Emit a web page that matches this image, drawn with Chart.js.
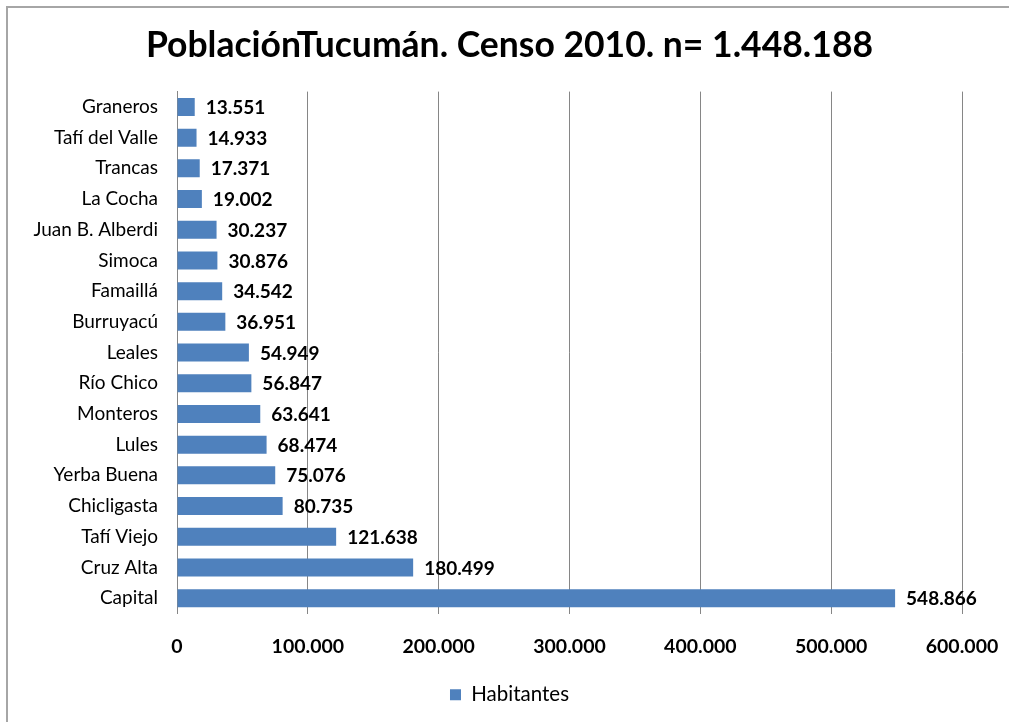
<!DOCTYPE html>
<html>
<head>
<meta charset="utf-8">
<script src="https://cdn.jsdelivr.net/npm/chart.js@4/dist/chart.umd.min.js"></script>
<style>
  html, body { margin: 0; padding: 0; background: #fff; }
  #wrap { position: relative; width: 1009px; height: 722px; }
  #frame { position: absolute; left: 6px; top: 6px; right: 0; bottom: 0; border-left: 2px solid #a6a6a6; border-top: 2px solid #a6a6a6; pointer-events: none; }
  canvas { position: absolute; left: 0; top: 0; }
</style>
</head>
<body>
<div id="wrap">
  <canvas id="chart" width="1009" height="722"></canvas>
  <div id="frame"></div>
</div>
<script>
// ── Data ──────────────────────────────────────────────────────────────────────
const departamentos = [
    "Graneros", "Tafí del Valle", "Trancas", "La Cocha", "Juan B. Alberdi", "Simoca",
    "Famaillá", "Burruyacú", "Leales", "Río Chico", "Monteros", "Lules",
    "Yerba Buena", "Chicligasta", "Tafí Viejo", "Cruz Alta", "Capital",
];
const habitantes = [
    13551, 14933, 17371, 19002, 30237, 30876,
    34542, 36951, 54949, 56847, 63641, 68474,
    75076, 80735, 121638, 180499, 548866,
];
const tituloTexto = "PoblaciónTucumán. Censo 2010. n= 1.448.188";
const serieNombre = "Habitantes";
const ejeMax  = 600000;
const ejePaso = 100000;

// ── Style ─────────────────────────────────────────────────────────────────────
const C = {
    bar:  "#4f81bd",
    grid: "#868686",
    text: "#000000",
};
const FONT = "Lato, 'DejaVu Sans', sans-serif";

// miles con punto, como en el original
const fmtMiles = (v) => String(Math.round(v)).replace(/\B(?=(\d{3})+(?!\d))/g, ".");

// ── Value labels at the end of each bar ───────────────────────────────────────
const barLabels = {
    id: "barLabels",
    afterDatasetsDraw(chart) {
        const ctx = chart.ctx;
        const meta = chart.getDatasetMeta(0);
        ctx.save();
        ctx.font = `bold 19px ${FONT}`;
        ctx.fillStyle = C.text;
        ctx.textAlign = "left";
        ctx.textBaseline = "middle";
        meta.data.forEach((bar, i) => {
            ctx.fillText(fmtMiles(chart.data.datasets[0].data[i]), bar.x + 11, bar.y + 1);
        });
        ctx.restore();
    },
};

new Chart(document.getElementById("chart").getContext("2d"), {
    type: "bar",
    data: {
        labels: departamentos,
        datasets: [{
            label: serieNombre,
            data: habitantes,
            backgroundColor: C.bar,
            borderWidth: 0,
            categoryPercentage: 1,
            barPercentage: 0.585,
        }],
    },
    options: {
        indexAxis: "y",
        responsive: false,
        animation: false,
        layout: { padding: { left: 10, right: 0, top: 0, bottom: 7 } },
        scales: {
            x: {
                min: 0,
                max: ejeMax,
                ticks: {
                    stepSize: ejePaso,
                    padding: 22,
                    color: C.text,
                    font: { family: FONT, size: 19.5, weight: "bold" },
                    callback: (v) => fmtMiles(v),
                },
                grid: { color: C.grid, drawTicks: false, lineWidth: 1 },
                border: { display: false },
                afterFit: (s) => { s.height = 49; s.paddingLeft = 0; s.paddingRight = 47; },
            },
            y: {
                ticks: {
                    padding: 19,
                    color: C.text,
                    font: { family: FONT, size: 19 },
                },
                grid: { display: false, drawTicks: false },
                border: { display: true, color: C.grid, width: 1 },
                afterFit: (s) => { s.width = 167; },
            },
        },
        plugins: {
            title: {
                display: true,
                text: tituloTexto,
                color: C.text,
                font: { family: FONT, size: 35.5, weight: "bold" },
                padding: { top: 24, bottom: 25 },
            },
            legend: {
                position: "bottom",
                labels: {
                    color: C.text,
                    boxWidth: 11,
                    boxHeight: 11,
                    padding: 22,
                    font: { family: FONT, size: 20.5 },
                },
            },
            tooltip: { enabled: false },
        },
    },
    plugins: [barLabels],
});
</script>
</body>
</html>
